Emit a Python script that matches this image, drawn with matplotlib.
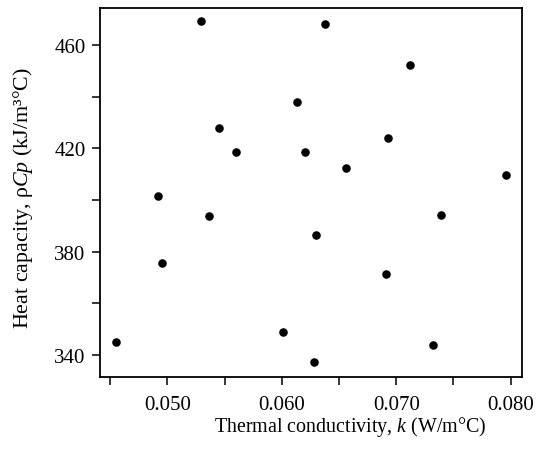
import matplotlib
matplotlib.use("Agg")
import matplotlib.pyplot as plt
import numpy as np

plt.rcParams['font.family'] = ['Liberation Serif', 'DejaVu Serif']
plt.rcParams['mathtext.fontset'] = 'custom'
plt.rcParams['mathtext.rm'] = 'Liberation Serif'
plt.rcParams['mathtext.it'] = 'Liberation Serif:italic'

# thermal conductivity k (W/m°C) and heat capacity rho*Cp (kJ/m3°C)
k = [0.0455, 0.0492, 0.0495, 0.0529, 0.0536, 0.0545, 0.0560, 0.0601, 0.0613,
     0.0620, 0.0628, 0.0630, 0.0638, 0.0656, 0.0691, 0.0693, 0.0712, 0.0732,
     0.0739, 0.0796]
rho_cp = [344.9, 401.7, 375.5, 469.2, 393.7, 427.7, 418.7, 349.0, 437.9,
          418.7, 337.2, 386.4, 468.0, 412.5, 371.2, 423.9, 452.1, 344.0,
          394.3, 409.6]

xticks = [0.045, 0.050, 0.055, 0.060, 0.065, 0.070, 0.075, 0.080]
xlabels = ['', '0.050', '', '0.060', '', '0.070', '', '0.080']
yticks = [340, 360, 380, 400, 420, 440, 460]
ylabels = ['340', '', '380', '', '420', '', '460']

fig = plt.figure(figsize=(5.49, 4.52), dpi=100)
ax = fig.add_axes([0.1821, 0.1644, 0.7681, 0.8157])

ax.scatter(k, rho_cp, s=38, color='black', linewidths=0, zorder=3)

ax.set_xlim(0.0441, 0.08096)
ax.set_ylim(331.6, 474.3)
ax.set_xticks(xticks)
ax.set_xticklabels(xlabels)
ax.set_yticks(yticks)
ax.set_yticklabels(ylabels)
ax.tick_params(direction='out', length=5.5, width=1.1, labelsize=15, pad=5)
ax.tick_params(axis='x', pad=7.5)
for sp in ax.spines.values():
    sp.set_linewidth(1.3)

ax.set_xlabel('Thermal conductivity, $\\mathit{k}$ (W/m°C)', fontsize=14.4)
ax.set_ylabel('Heat capacity, ρ$\\mathit{Cp}$ (kJ/m³°C)', fontsize=15.8)
ax.xaxis.set_label_coords(0.593, -0.1025)
ax.yaxis.set_label_coords(-0.154, 0.488)

fig.savefig('out.png', dpi=100)
